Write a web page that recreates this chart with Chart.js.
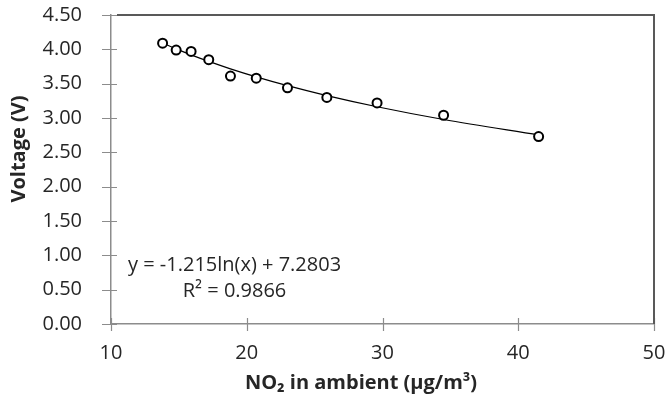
<!DOCTYPE html>
<html>
<head>
<meta charset="utf-8">
<script src="https://cdn.jsdelivr.net/npm/chart.js@4/dist/chart.umd.min.js"></script>
<style>
  html, body { margin: 0; padding: 0; background: #fff; }
  #wrap { width: 667px; height: 401px; }
</style>
</head>
<body>
<div id="wrap"><canvas id="c" width="667" height="401"></canvas></div>
<script>
// Data
const no2Values = [13.8, 14.8, 15.9, 17.2, 18.8, 20.7, 23.0, 25.9, 29.6, 34.5, 41.5];
const voltageValues = [4.09, 3.99, 3.97, 3.85, 3.61, 3.58, 3.44, 3.30, 3.22, 3.04, 2.73];
const xTickValues = [10, 20, 30, 40, 50];
const yTickValues = [0, 0.5, 1, 1.5, 2, 2.5, 3, 3.5, 4, 4.5];
// Trendline coefficients as printed on the chart
const trendSlope = -1.215;
const trendIntercept = 7.2803;
const trendLabel = 'y = -1.215ln(x) + 7.2803';
const r2Label = 'R² = 0.9866';
const xTitle = 'NO₂ in ambient (μg/m³)';
const yTitle = 'Voltage (V)';

const FONT = "'Open Sans', 'DejaVu Sans', sans-serif";
const TEXT_COLOR = '#262626';
const AXIS_COLOR = '#8c8c8c';
const BORDER_COLOR = '#595959';

const scatterData = no2Values.map((x, i) => ({ x: x, y: voltageValues[i] }));
const trendData = no2Values.map(x => ({ x: x, y: trendSlope * Math.log(x) + trendIntercept }));

const decorPlugin = {
  id: 'decor',
  afterDatasetsDraw(chart) {
    const { ctx, chartArea, scales } = chart;
    const xs = scales.x, ys = scales.y;
    ctx.save();
    ctx.strokeStyle = AXIS_COLOR;
    ctx.lineWidth = 1.2;
    ctx.beginPath();
    xTickValues.forEach(v => {
      const px = Math.round(xs.getPixelForValue(v)) + 0.5;
      ctx.moveTo(px, chartArea.bottom - 6);
      ctx.lineTo(px, chartArea.bottom + 7);
    });
    yTickValues.forEach(v => {
      const py = Math.round(ys.getPixelForValue(v)) + 0.5;
      ctx.moveTo(chartArea.left - 9, py);
      ctx.lineTo(chartArea.left + 6, py);
    });
    ctx.stroke();
    ctx.strokeStyle = BORDER_COLOR;
    ctx.lineWidth = 2;
    ctx.beginPath();
    ctx.moveTo(chartArea.left + 6, chartArea.top);
    ctx.lineTo(chartArea.right, chartArea.top);
    ctx.lineTo(chartArea.right, chartArea.bottom);
    ctx.stroke();
    // trendline label
    ctx.fillStyle = TEXT_COLOR;
    ctx.font = '20px ' + FONT;
    ctx.textAlign = 'center';
    ctx.textBaseline = 'middle';
    ctx.fillText(trendLabel, xs.getPixelForValue(19.1), ys.getPixelForValue(0.86));
    ctx.fillText(r2Label, xs.getPixelForValue(19.1), ys.getPixelForValue(0.47));
    // axis titles (placed as in the reference, off-centre)
    ctx.font = 'bold 20px ' + FONT;
    ctx.fillText(xTitle, chartArea.left + 250, 383);
    ctx.translate(19, chartArea.top + 134);
    ctx.rotate(-Math.PI / 2);
    ctx.fillText(yTitle, 0, 0);
    ctx.restore();
  }
};

new Chart(document.getElementById('c'), {
  type: 'scatter',
  data: {
    datasets: [
      {
        label: 'Measured',
        data: scatterData,
        pointRadius: 4.5,
        pointBorderWidth: 2,
        pointBorderColor: '#000',
        pointBackgroundColor: '#fff',
        showLine: false,
        order: 0
      },
      {
        label: 'Log trend',
        data: trendData,
        showLine: true,
        borderColor: '#000',
        borderWidth: 1.2,
        pointRadius: 0,
        cubicInterpolationMode: 'monotone',
        fill: false,
        order: 1
      }
    ]
  },
  options: {
    responsive: false,
    animation: false,
    devicePixelRatio: 1,
    layout: { padding: { top: 15, right: 13, bottom: 0, left: 0 } },
    plugins: {
      legend: { display: false },
      tooltip: { enabled: false }
    },
    scales: {
      x: {
        type: 'linear',
        min: 10,
        max: 50,
        afterBuildTicks(scale) { scale.ticks = xTickValues.map(v => ({ value: v })); },
        afterFit(scale) {
          scale.height = 77;
          scale.paddingLeft = 0; scale.paddingRight = 0;
        },
        grid: { display: false },
        border: { display: true, color: AXIS_COLOR, width: 1.5 },
        ticks: {
          padding: 9,
          color: TEXT_COLOR,
          font: { family: FONT, size: 20 },
          maxRotation: 0,
          callback: v => String(v)
        },
        title: { display: false }
      },
      y: {
        type: 'linear',
        min: 0,
        max: 4.5,
        afterBuildTicks(scale) { scale.ticks = yTickValues.map(v => ({ value: v })); },
        afterFit(scale) {
          scale.width = 111;
          scale.paddingTop = 0; scale.paddingBottom = 0;
        },
        grid: { display: false },
        border: { display: true, color: AXIS_COLOR, width: 1.5 },
        ticks: {
          padding: 21,
          color: TEXT_COLOR,
          font: { family: FONT, size: 20 },
          callback: v => Number(v).toFixed(2)
        },
        title: { display: false }
      }
    }
  },
  plugins: [decorPlugin]
});
</script>
</body>
</html>
